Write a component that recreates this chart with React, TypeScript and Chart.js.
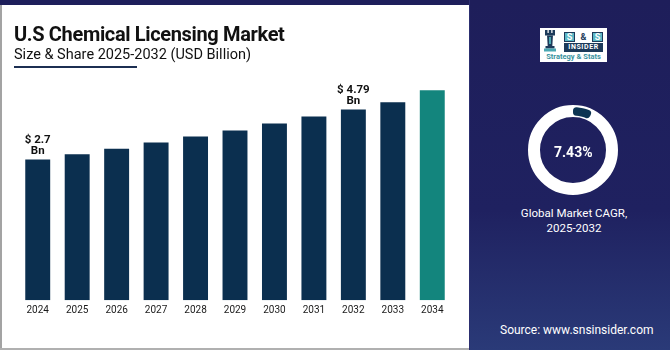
import React, { useEffect, useRef } from 'react';
import { Chart, registerables } from 'chart.js';

Chart.register(...registerables);

const years = ['2024', '2025', '2026', '2027', '2028', '2029', '2030', '2031', '2032', '2033', '2034'];
const marketValues = [2.7, 2.92, 3.15, 3.41, 3.66, 3.92, 4.21, 4.5, 4.79, 5.1, 5.6];
const labelledIndexes = [0, 8];
const valueLabels = ['$ 2.7', '$ 4.79'];
const cagrValue = 7.43;
const yAxisMin = -3.2;
const yAxisMax = 6.45;

const NAVY = '#1e1f5b';
const BAR = '#0b2f4f';
const TEAL = '#13857d';

const valueNotes = {
  id: 'valueNotes',
  afterDatasetsDraw(chart: any) {
    const ctx = chart.ctx;
    const meta = chart.getDatasetMeta(0);
    ctx.save();
    ctx.font = 'bold 11.5px Roboto';
    ctx.fillStyle = '#111111';
    ctx.textAlign = 'center';
    ctx.textBaseline = 'middle';
    labelledIndexes.forEach((idx, k) => {
      const el = meta.data[idx];
      if (!el) return;
      ctx.fillText(valueLabels[k], el.x, el.y - 19);
      ctx.fillText('Bn', el.x, el.y - 8.5);
    });
    ctx.restore();
  },
};

export default function App() {
  const barRef = useRef<HTMLCanvasElement | null>(null);
  const donutRef = useRef<HTMLCanvasElement | null>(null);

  useEffect(() => {
    if (!barRef.current || !donutRef.current) return;
    const bar = new Chart(barRef.current, {
      type: 'bar',
      data: {
        labels: years,
        datasets: [
          {
            data: marketValues,
            base: yAxisMin,
            backgroundColor: marketValues.map((_, i) => (i === marketValues.length - 1 ? TEAL : BAR)),
            borderWidth: 0,
            categoryPercentage: 0.8,
            barPercentage: 0.79,
          } as any,
        ],
      },
      options: {
        animation: false,
        responsive: false,
        maintainAspectRatio: false,
        events: [],
        layout: { padding: { left: 18, right: 17, top: 70, bottom: 29.7 } },
        plugins: { legend: { display: false }, tooltip: { enabled: false } },
        scales: {
          x: {
            grid: { display: false, drawTicks: false },
            border: { display: false },
            ticks: { color: '#1a1a1a', font: { family: 'Roboto', size: 10 }, padding: 4, maxRotation: 0 },
          },
          y: { display: false, min: yAxisMin, max: yAxisMax },
        },
      },
      plugins: [valueNotes],
    });

    const donut = new Chart(donutRef.current, {
      type: 'doughnut',
      data: {
        labels: ['CAGR', 'Rest'],
        datasets: [
          {
            data: [cagrValue, 100 - cagrValue],
            backgroundColor: ['#0d3552', 'rgba(0,0,0,0)'],
            borderWidth: 0,
            borderRadius: 3.5,
            radius: 43,
            cutout: 36,
          } as any,
        ],
      },
      options: {
        animation: false,
        responsive: false,
        maintainAspectRatio: false,
        events: [],
        plugins: { legend: { display: false }, tooltip: { enabled: false } },
      },
    });

    return () => {
      bar.destroy();
      donut.destroy();
    };
  }, []);

  const abs = (s: React.CSSProperties): React.CSSProperties => ({ position: 'absolute', ...s });

  return (
    <div
      style={{
        position: 'fixed',
        left: 0,
        top: 0,
        width: 670,
        height: 350,
        background: '#ffffff',
        overflow: 'hidden',
        fontFamily: 'Roboto, "Noto Sans", sans-serif',
      }}
    >
      <div style={abs({ left: 0, top: 0, width: 2, height: 350, background: '#a3a3a3' })} />
      <div style={abs({ left: 0, top: 348, width: 470, height: 2, background: '#b0b0b0' })} />
      <div style={abs({ left: 0, top: 0, width: 670, height: 5, background: NAVY })} />

      <canvas ref={barRef} width={469} height={350} style={abs({ left: 0, top: 0, width: 469, height: 350 })} />

      <div
        style={abs({
          left: 14,
          top: 24,
          fontSize: 20,
          lineHeight: '20px',
          fontWeight: 700,
          color: '#111111',
          whiteSpace: 'nowrap',
          letterSpacing: -0.35,
        })}
      >
        U.S Chemical Licensing Market
      </div>
      <div
        style={abs({
          left: 14,
          top: 48.3,
          fontSize: 14.5,
          lineHeight: '14.5px',
          color: '#111111',
          whiteSpace: 'nowrap',
          letterSpacing: 0,
        })}
      >
        Size &amp; Share 2025-2032 (USD Billion)
      </div>
      <div style={abs({ left: 14, top: 66.3, width: 123, height: 2, background: '#1c2f52' })} />

      <div
        style={abs({
          left: 469,
          top: 0,
          width: 201,
          height: 350,
          background: 'linear-gradient(to bottom, #1e1e5a 0%, #1f2160 60%, #2a3a78 100%)',
        })}
      />
      <div style={abs({ left: 469, top: 0, width: 1, height: 350, background: '#2c2f70' })} />

      {/* logo */}
      <div style={abs({ left: 540, top: 28, width: 67, height: 34, background: '#ffffff' })}>
        <svg width="14" height="22" viewBox="0 0 14 22" style={abs({ left: 3, top: 2 })}>
          <rect x="2" y="0" width="2.5" height="3" fill="#1d3a5a" />
          <rect x="5.75" y="0" width="2.5" height="3" fill="#1d3a5a" />
          <rect x="9.5" y="0" width="2.5" height="3" fill="#1d3a5a" />
          <rect x="2" y="3" width="10" height="2.5" fill="#1d3a5a" />
          <path d="M4 5.5 L10 5.5 L9.3 16 L4.7 16 Z" fill="#1d3a5a" />
          <rect x="6" y="7" width="2" height="7" fill="#4aa7b2" />
          <rect x="2.5" y="16" width="9" height="2.5" fill="#1d3a5a" />
          <rect x="1" y="18.5" width="12" height="3" fill="#4aa7b2" />
        </svg>
        <div
          style={abs({
            left: 24,
            top: 4,
            width: 39,
            height: 10,
            display: 'flex',
            justifyContent: 'space-between',
            alignItems: 'center',
            fontSize: 9,
            fontWeight: 700,
            lineHeight: '10px',
          })}
        >
          <span style={{ width: 11, height: 10, background: '#5bb7c4', color: '#fff', textAlign: 'center', border: '1px solid #1d3a5a', boxSizing: 'border-box', lineHeight: '8px' }}>S</span>
          <span style={{ color: '#1d3a5a' }}>&amp;</span>
          <span style={{ width: 11, height: 10, background: '#5bb7c4', color: '#fff', textAlign: 'center', border: '1px solid #1d3a5a', boxSizing: 'border-box', lineHeight: '8px' }}>S</span>
        </div>
        <div
          style={abs({
            left: 24,
            top: 15,
            width: 39,
            height: 9,
            background: '#1d3a5a',
            color: '#ffffff',
            fontSize: 7,
            fontWeight: 700,
            lineHeight: '9px',
            textAlign: 'center',
            letterSpacing: 0.6,
          })}
        >
          INSIDER
        </div>
        <div
          style={abs({
            left: 0,
            top: 25,
            width: 67,
            fontSize: 7.5,
            fontWeight: 700,
            lineHeight: '8px',
            color: '#3a93a0',
            textAlign: 'center',
            whiteSpace: 'nowrap',
          })}
        >
          Strategy &amp; Stats
        </div>
      </div>

      {/* donut */}
      <div
        style={abs({
          left: 528.3,
          top: 105,
          width: 90,
          height: 90,
          borderRadius: '50%',
          border: '12px solid #ffffff',
          boxSizing: 'border-box',
        })}
      />
      <canvas ref={donutRef} width={90} height={90} style={abs({ left: 528.3, top: 105, width: 90, height: 90 })} />
      <div
        style={abs({
          left: 528.3,
          top: 144,
          width: 90,
          textAlign: 'center',
          color: '#ffffff',
          fontSize: 14,
          fontWeight: 700,
          lineHeight: '16px',
        })}
      >
        {cagrValue.toFixed(2)}%
      </div>
      <div
        style={abs({
          left: 474,
          top: 206,
          width: 200,
          textAlign: 'center',
          color: '#ffffff',
          fontSize: 11.5,
          lineHeight: '14.5px',
        })}
      >
        Global Market CAGR,
        <br />
        2025-2032
      </div>
      <div
        style={abs({
          left: 500,
          top: 323,
          color: '#ffffff',
          fontSize: 12,
          lineHeight: '14px',
          whiteSpace: 'nowrap',
        })}
      >
        Source: www.snsinsider.com
      </div>
    </div>
  );
}
